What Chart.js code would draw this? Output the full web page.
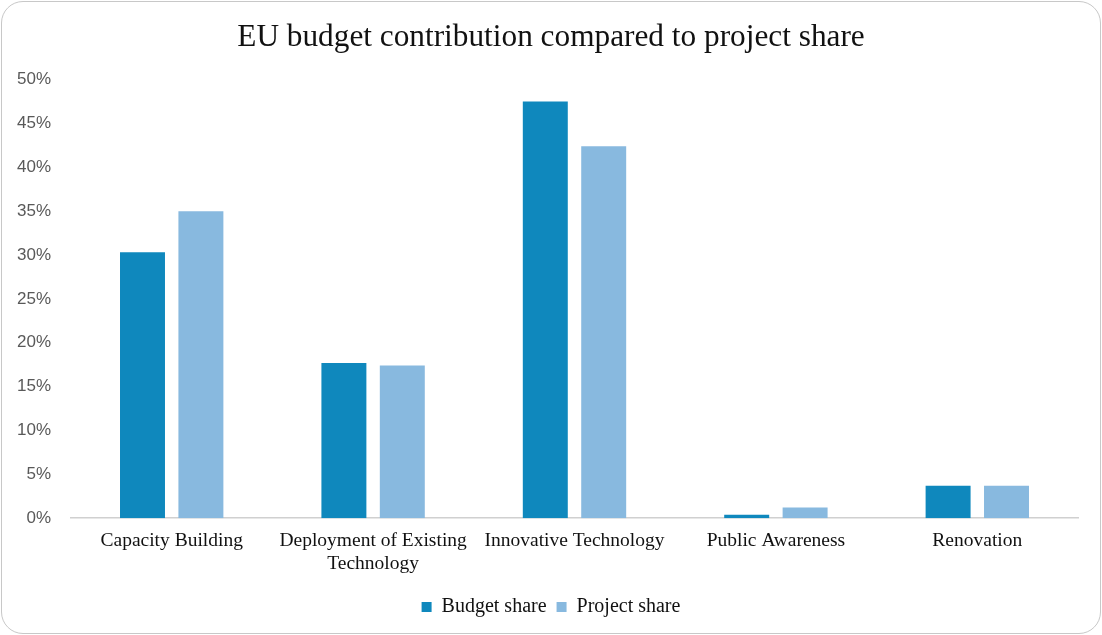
<!DOCTYPE html>
<html>
<head>
<meta charset="utf-8">
<script src="https://cdn.jsdelivr.net/npm/chart.js@4"></script>
<style>
html,body{margin:0;padding:0;background:#fff;}
#wrap{position:absolute;left:1px;top:1px;width:1098px;height:631px;border:1px solid #c8c8c8;border-radius:22px;background:#fff;overflow:hidden;}
canvas{display:block;}
</style>
</head>
<body>
<div id="wrap"><canvas id="c" width="1098" height="631"></canvas></div>
<script>
const categories = ["Capacity Building", ["Deployment of Existing", "Technology"], "Innovative Technology", "Public Awareness", "Renovation"];
const budgetShare = [30.3, 17.7, 47.5, 0.4, 3.7];
const projectShare = [35.0, 17.4, 42.4, 1.2, 3.7];
const seriesNames = ["Budget share", "Project share"];
const yTicks = [0, 5, 10, 15, 20, 25, 30, 35, 40, 45, 50];

new Chart(document.getElementById('c'), {
  type: 'bar',
  data: {
    labels: categories,
    datasets: [
      {label: seriesNames[0], data: budgetShare, backgroundColor: '#0f88bd', categoryPercentage: 0.58, barPercentage: 0.77},
      {label: seriesNames[1], data: projectShare, backgroundColor: '#88b9df', categoryPercentage: 0.58, barPercentage: 0.77}
    ]
  },
  options: {
    responsive: false,
    animation: false,
    layout: {padding: {left: 11, right: 11, top: 4, bottom: 6}},
    plugins: {
      title: {display: true, text: 'EU budget contribution compared to project share', color: '#111',
        font: {family: 'Liberation Serif', size: 31.3, weight: 'normal'}, padding: {top: 13, bottom: 23}},
      legend: {position: 'bottom', labels: {color: '#111', font: {family: 'Liberation Serif', size: 20},
        boxWidth: 10, boxHeight: 10, padding: 10}},
      tooltip: {enabled: false}
    },
    scales: {
      x: {
        grid: {display: false, drawTicks: false},
        border: {display: true, color: '#d0d0d0', width: 1.5},
        ticks: {color: '#111', font: {family: 'Liberation Serif', size: 19.5, lineHeight: 1.15}, padding: 12, maxRotation: 0, autoSkip: false}
      },
      y: {
        min: 0, max: 50,
        afterBuildTicks: (axis) => { axis.ticks = yTicks.map(v => ({value: v})); },
        afterFit: (axis) => { axis.width = 58; },
        grid: {display: false, drawTicks: false},
        border: {display: false},
        ticks: {color: '#595959', font: {family: 'Liberation Sans', size: 17}, padding: 20,
          callback: (v) => v + '%'}
      },
      yRight: {
        position: 'right', min: 0, max: 50,
        afterFit: (axis) => { axis.width = 11; },
        grid: {display: false, drawTicks: false},
        border: {display: false},
        ticks: {display: false}
      }
    }
  }
});
</script>
</body>
</html>
